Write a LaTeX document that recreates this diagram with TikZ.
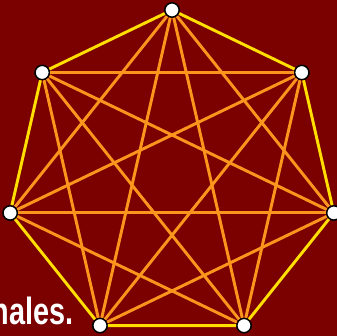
\documentclass[tikz,border=0pt]{standalone}
\usepackage{fontspec}
\setmainfont{Liberation Sans}
\usepackage{graphicx}
\definecolor{bgred}{RGB}{123,0,0}
\definecolor{rimyellow}{RGB}{255,222,0}
\definecolor{chordorange}{RGB}{250,150,30}

\begin{document}
\begin{tikzpicture}[x=0.025cm,y=-0.025cm,
  vertex/.style={circle,draw=black,fill=white,line width=1.1pt,minimum size=0.36cm,inner sep=0pt},
  rim/.style={draw=rimyellow,line width=2.1pt},
  chord/.style={draw=chordorange,line width=2.1pt}]
\fill[bgred] (0,0) rectangle (337,336);
\clip (0,0) rectangle (337,336);
% caption, cut off at the left edge
\node[anchor=base east,inner sep=0pt,text=white,font=\bfseries\fontsize{27}{27}\selectfont] (caption) at (74,324) {\scalebox{0.76}[1]{nales.}};
% the seven vertices
\foreach \i in {0,...,6}
  \node[vertex] (v\i) at ({172+166*cos(90+360/7*\i)},{176-166*sin(90+360/7*\i)}) {};
% diagonals
\foreach \i in {0,...,6}
  \foreach \j in {2,3}{
    \pgfmathtruncatemacro{\k}{mod(\i+\j,7)}
    \draw[chord] (v\i) -- (v\k);
  }
% heptagon
\foreach \i in {0,...,6}{
  \pgfmathtruncatemacro{\k}{mod(\i+1,7)}
  \draw[rim] (v\i) -- (v\k);
}
\end{tikzpicture}
\end{document}
